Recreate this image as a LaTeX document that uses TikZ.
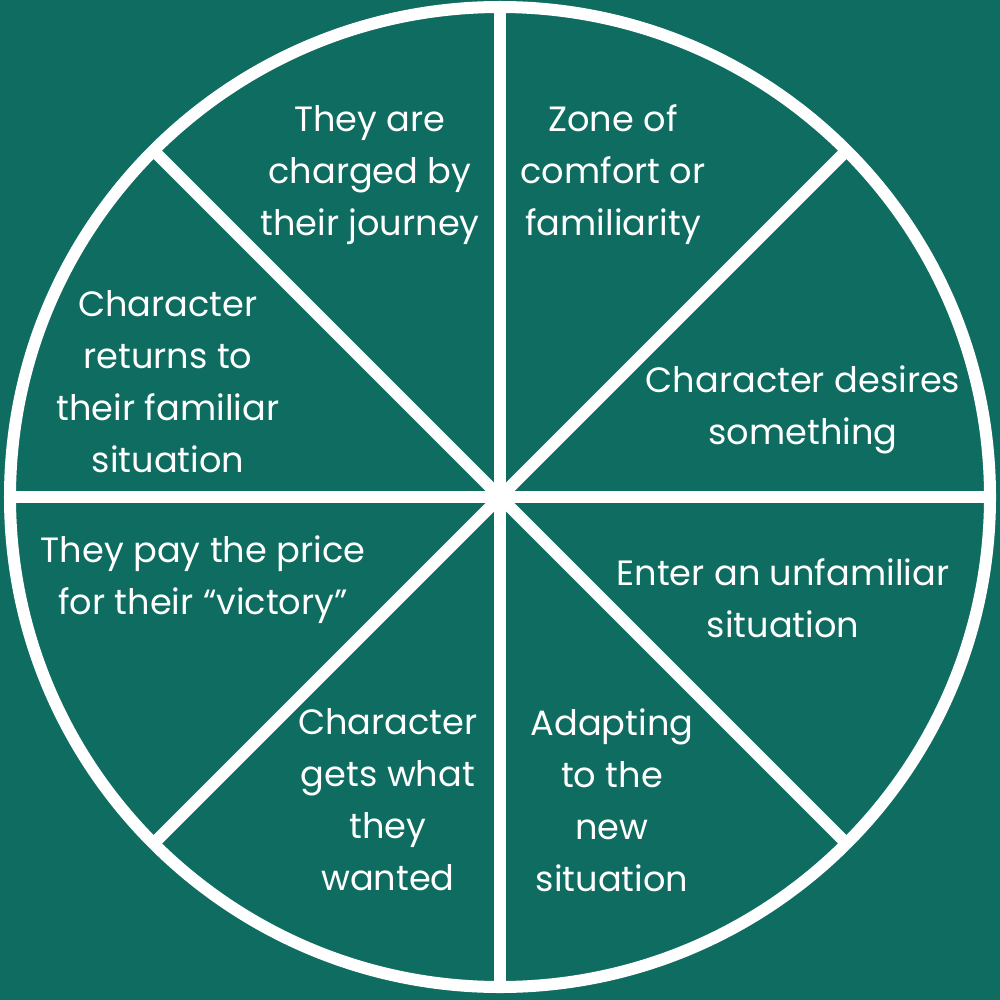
\documentclass[tikz,border=0pt]{standalone}
\usepackage{fontspec}
\setmainfont{Poppins}
\definecolor{bg}{HTML}{0E6C60}
\begin{document}
\begin{tikzpicture}[x=0.01cm,y=-0.01cm,
  lbl/.style={text=white,align=center,font=\fontsize{10}{14.8}\selectfont}]
\fill[bg] (0,0) rectangle (1000,1000);
\useasboundingbox (0,0) rectangle (1000,1000);
\coordinate (c) at (500,497);
\begin{scope}[white,line width=12*0.2845pt]
\draw (c) circle[radius=490];
\draw (c) ++(0,-490) -- ++(0,980);
\draw (c) ++(-490,0) -- ++(980,0);
\draw (c) ++(-346.5,-346.5) -- ++(693,693);
\draw (c) ++(346.5,-346.5) -- ++(-693,693);
\end{scope}
\node[lbl] (a) at (370,175) {They are\\charged by\\their journey};
\node[lbl] (b) at (613,175) {Zone of\\comfort or\\familiarity};
\node[lbl] (d) at (803,410) {Character desires\\something};
\node[lbl] (e) at (783,598) {Enter an unfamiliar\\situation};
\node[lbl] (f) at (612,800) {Adapting\\to the\\new\\situation};
\node[lbl] (g) at (388,800) {Character\\gets what\\they\\wanted};
\node[lbl] (h) at (203,580) {They pay the price\\for their “victory”};
\node[lbl] (i) at (168,382) {Character\\returns to\\their familiar\\situation};
\end{tikzpicture}
\end{document}
